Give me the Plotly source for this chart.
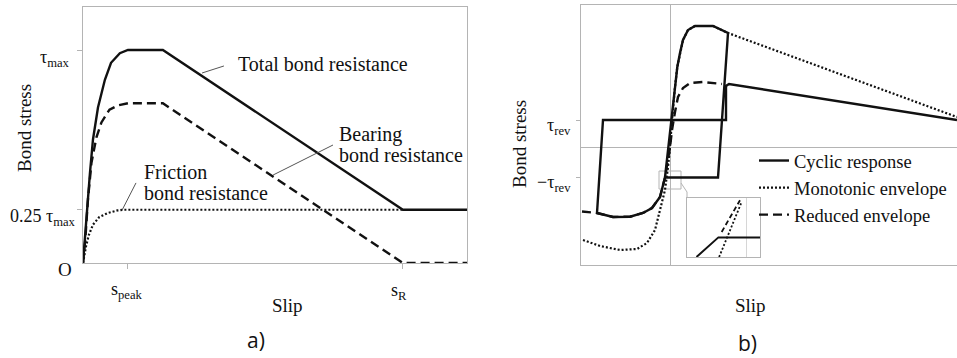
import plotly.graph_objects as go

W, H = 957, 358
SERIF = "Liberation Serif"
SANS = "Open Sans"
GREY = "#b4b4b4"
INK = "#111111"

# ---------------- Panel a data (slip in % of axis length, stress in tau_max) ----------------
slip_total = [0, 0.4, 0.8, 1.3, 1.8, 2.6, 3.9, 5.7, 7.3, 9.6, 11.7, 20.8, 83.3, 100]
stress_total = [0, 0.10, 0.19, 0.31, 0.42, 0.58, 0.73, 0.86, 0.94, 0.985, 1.0, 1.0, 0.25, 0.25]
slip_bearing = [0, 0.6, 1.3, 2.2, 3.5, 4.8, 6.9, 9.1, 11.7, 20.8, 83.3, 100]
stress_bearing = [0, 0.11, 0.30, 0.47, 0.59, 0.66, 0.72, 0.74, 0.75, 0.75, 0, 0]
slip_friction = [0, 0.8, 1.5, 2.6, 4.2, 6.5, 9.0, 10.4, 83.3]
stress_friction = [0, 0.08, 0.13, 0.18, 0.215, 0.235, 0.247, 0.25, 0.25]
a_xtick_vals = [11.5, 83.3]
a_xtick_text = ["s<sub>peak</sub>", "s<sub>R</sub>"]
a_ytick_vals = [0.25, 1.0]
a_ytick_text = ["0.25 τ<sub>max</sub>", "τ<sub>max</sub>"]

# ---------------- Panel b data ----------------
cyc_slip = [-0.5, -0.2, 0.2, 0.33, 0.5, 0.73, 1.0, 1.3, 1.8, 2.5, 4.3, 5.8, 4.8, -0.5,
            -1.0, -1.8, -2.7, -4.0, -5.7, -7.3, -6.7, 5.6, 5.6, 5.9, 28.7]
cyc_stress = [-3.0, -0.25, 2.75, 4.45, 6.05, 8.05, 9.45, 10.75, 11.75, 12.15, 12.15, 11.45, -3.0, -3.0,
              -4.95, -6.05, -6.55, -6.92, -6.95, -6.55, 2.75, 2.75, 6.15, 6.35, 2.75]
mono_slip = [-8.7, -7.0, -5.0, -3.3, -2.3, -1.5, -1.0, -0.5, -0.2, 0, 0.2, 0.33, 0.5, 0.73,
             1.0, 1.3, 1.8, 2.5, 4.3, 5.8, 28.7]
mono_stress = [-9.25, -9.85, -10.25, -10.15, -9.55, -8.25, -6.25, -4.25, -1.95, 0, 2.75, 4.45, 6.05, 8.05,
               9.45, 10.75, 11.75, 12.15, 12.15, 11.45, 3.05]
red_slip = [-8.8, -7.3, -5.7, -4.0, -2.7, -1.8, -1.0, -0.5, 0, 0.2, 0.5, 0.8, 1.3, 2.0, 3.3, 5.2]
red_stress = [-6.4, -6.55, -6.95, -6.92, -6.55, -6.05, -4.95, -3.0, 0, 1.75, 3.55, 5.05, 5.95, 6.45, 6.55, 6.35]
b_ytick_vals = [2.75, -3.0]
b_ytick_text = ["τ<sub>rev</sub>", "−τ<sub>rev</sub>"]

# inset (zoomed detail)
ins_cyc_x = [1.3, 4.3, 10]
ins_cyc_y = [0, 2.66, 2.66]
ins_mono_x = [4.4, 7.5]
ins_mono_y = [0, 7.5]
ins_red_x = [4.75, 7.26]
ins_red_y = [3.4, 7.7]
ins_grid_x = [8.1]


def px(x):
    return x / W


def py(y):
    return 1 - y / H


fig = go.Figure()

# panel a traces
fig.add_trace(go.Scatter(x=slip_friction, y=stress_friction, mode="lines", showlegend=False,
                         line=dict(color=INK, width=2.2, dash="2px,2px"), xaxis="x", yaxis="y"))
fig.add_trace(go.Scatter(x=slip_bearing, y=stress_bearing, mode="lines", showlegend=False,
                         line=dict(color=INK, width=2.4, dash="9px,5px"), xaxis="x", yaxis="y"))
fig.add_trace(go.Scatter(x=slip_total, y=stress_total, mode="lines", showlegend=False,
                         line=dict(color=INK, width=2.4), xaxis="x", yaxis="y"))

# panel b traces
fig.add_trace(go.Scatter(x=red_slip, y=red_stress, mode="lines", name="Reduced envelope", legendrank=3,
                         line=dict(color=INK, width=2.4, dash="9px,5px"), xaxis="x2", yaxis="y2"))
fig.add_trace(go.Scatter(x=mono_slip, y=mono_stress, mode="lines", name="Monotonic envelope", legendrank=2,
                         line=dict(color=INK, width=2.2, dash="2px,2px"), xaxis="x2", yaxis="y2"))
fig.add_trace(go.Scatter(x=cyc_slip, y=cyc_stress, mode="lines", name="Cyclic response", legendrank=1,
                         line=dict(color=INK, width=2.4), xaxis="x2", yaxis="y2"))

# inset traces
fig.add_trace(go.Scatter(x=ins_red_x, y=ins_red_y, mode="lines", showlegend=False,
                         line=dict(color=INK, width=1.8, dash="5px,3px"), xaxis="x3", yaxis="y3"))
fig.add_trace(go.Scatter(x=ins_mono_x, y=ins_mono_y, mode="lines", showlegend=False,
                         line=dict(color=INK, width=1.8, dash="2px,2px"), xaxis="x3", yaxis="y3"))
fig.add_trace(go.Scatter(x=ins_cyc_x, y=ins_cyc_y, mode="lines", showlegend=False,
                         line=dict(color=INK, width=2), xaxis="x3", yaxis="y3"))

axis_common = dict(showgrid=False, showline=True, linecolor=GREY, linewidth=1,
                   tickcolor=GREY, layer="below traces", fixedrange=True)

fig.update_layout(
    width=W, height=H, margin=dict(l=0, r=0, t=0, b=0, autoexpand=False),
    paper_bgcolor="white", plot_bgcolor="white",
    font=dict(family=SERIF, color=INK, size=19),
    xaxis=dict(domain=[px(83), px(467)], range=[0, 100], mirror=True, zeroline=False,
               ticks="outside", ticklen=5, tickvals=a_xtick_vals, showticklabels=False,
               anchor="y", **axis_common),
    yaxis=dict(domain=[py(263), py(7)], range=[0, 256 / 213], mirror=True, zeroline=False,
               ticks="outside", ticklen=5, tickvals=a_ytick_vals, showticklabels=False,
               anchor="x", **axis_common),
    xaxis2=dict(domain=[px(581), 1.0], range=[-8.9, 28.7], mirror=True,
                zeroline=True, zerolinecolor=GREY, zerolinewidth=1,
                ticks="", showticklabels=False, anchor="y2", **axis_common),
    yaxis2=dict(domain=[py(265), py(5)], range=[-11.75, 14.25], mirror=False,
                zeroline=True, zerolinecolor=GREY, zerolinewidth=1,
                ticks="outside", ticklen=4, tickvals=b_ytick_vals, showticklabels=False,
                anchor="x2", **axis_common),
    xaxis3=dict(domain=[px(687), px(760)], range=[0, 10], mirror=True, zeroline=False,
                ticks="", showticklabels=False, anchor="y3",
                showline=True, linecolor=GREY, linewidth=1, showgrid=True, gridcolor="#d6d6d6",
                tickvals=ins_grid_x, fixedrange=True),
    yaxis3=dict(domain=[py(257), py(198)], range=[0, 8], mirror=True, zeroline=False,
                ticks="", showticklabels=False, anchor="x3",
                showline=True, linecolor=GREY, linewidth=1, showgrid=False, fixedrange=True),
    legend=dict(x=px(754), y=py(142), xanchor="left", yanchor="top",
                bgcolor="rgba(0,0,0,0)", borderwidth=0, itemwidth=30,
                font=dict(family=SERIF, size=18.5, color=INK), tracegroupgap=0),
    showlegend=True,
)

# zoom window and connector for the inset
fig.add_shape(type="rect", xref="x2", yref="y2", x0=-1.1, x1=1.1, y0=-4.15, y1=-2.35,
              line=dict(color=GREY, width=1), layer="below")
fig.add_shape(type="path", xref="x2", yref="y2", path="M 1.1,-3.55 L 1.7,-4.45 L 1.7,-5.05",
              line=dict(color=GREY, width=1), layer="below")

# leader lines for panel a labels
for (x0, y0, x1, y1) in [(31.0, 0.892, 36.7, 0.925), (49.5, 0.413, 65.1, 0.554), (10.2, 0.249, 13.8, 0.376)]:
    fig.add_shape(type="line", xref="x", yref="y", x0=x0, y0=y0, x1=x1, y1=y1,
                  line=dict(color="#555555", width=1))


def ann(text, x, y, xanchor="center", yanchor="middle", size=20, family=SERIF, angle=0):
    fig.add_annotation(text=text, x=px(x), y=py(y), xref="paper", yref="paper",
                       xanchor=xanchor, yanchor=yanchor, showarrow=False, textangle=angle,
                       font=dict(family=family, size=size, color=INK))


# panel a texts
ann("Total bond resistance", 236, 64, xanchor="left")
ann("Bearing", 337, 134, xanchor="left")
ann("bond resistance", 337, 155, xanchor="left")
ann("Friction", 142, 172, xanchor="left")
ann("bond resistance", 142, 193, xanchor="left")
ann(a_ytick_text[1], 72, 58, xanchor="right", size=18)
ann(a_ytick_text[0], 78, 217, xanchor="right", size=18)
ann("O", 65, 269, size=19)
ann(a_xtick_text[0], 127, 290, size=18)
ann(a_xtick_text[1], 399, 291, size=18)
ann("Slip", 287, 305, size=19)
ann("Bond stress", 24, 128, size=19, angle=-90)
ann("a)", 256, 340, size=21, family=SANS)

# panel b texts
ann(b_ytick_text[0], 573, 126, xanchor="right", size=18)
ann(b_ytick_text[1], 573, 183, xanchor="right", size=18)
ann("Slip", 750, 305, size=19)
ann("Bond stress", 519, 144, size=19, angle=-90)
ann("b)", 747, 343, size=21, family=SANS)

fig.write_html("out.html")
